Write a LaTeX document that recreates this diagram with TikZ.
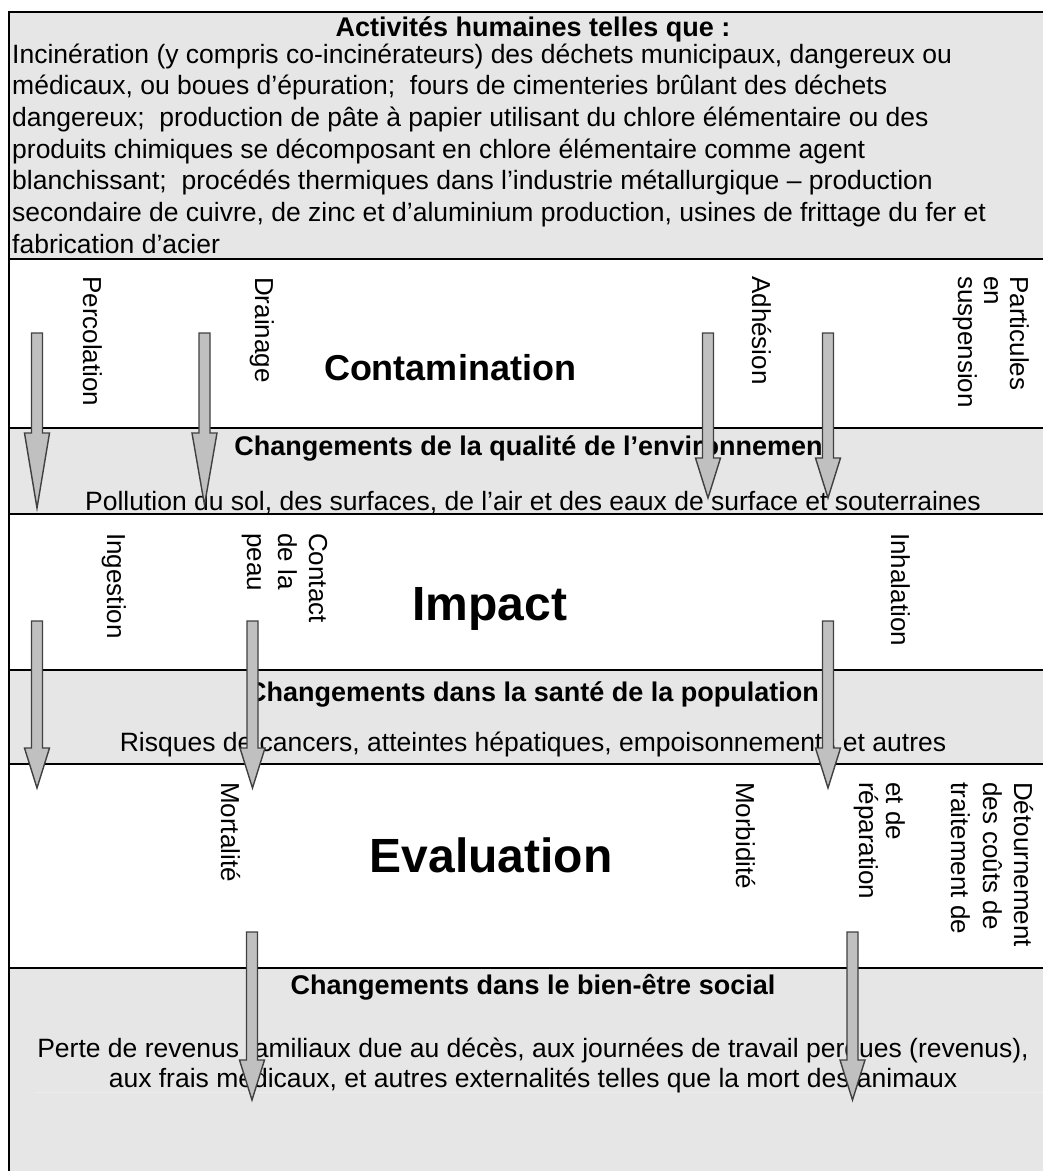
\documentclass[tikz,border=0pt]{standalone}
\usepackage{fontspec}
\setmainfont{Liberation Sans}
\definecolor{bandgrey}{HTML}{E6E6E6}
\definecolor{arrowfill}{HTML}{C0C0C0}
\definecolor{arrowedge}{HTML}{404040}
\begin{document}
\begin{tikzpicture}[x=1pt,y=-1pt,
  frame/.style={line width=2.6pt,black},
  body/.style={inner sep=0pt,font=\fontsize{26.5}{32}\selectfont},
  head/.style={inner sep=0pt,font=\fontsize{27}{32}\selectfont\bfseries},
  title/.style={inner sep=0pt,anchor=base,font=\fontsize{#1}{#1}\selectfont\bfseries},
  vlabel/.style={inner sep=0pt,rotate=-90,anchor=base west,font=\fontsize{26}{30}\selectfont},
  arrowbody/.style={fill=arrowfill,draw=arrowedge,line width=1.4pt,line join=miter},
  pics/blockarrow/.style n args={2}{code={
    % shaft 11 wide, head 25 wide; #1 = start of the head, #2 = tip
    \draw[arrowbody] (-5.5,0) -- (5.5,0) -- (5.5,#1) -- (12.5,#1) -- (0,#2)
      -- (-12.5,#1) -- (-5.5,#1) -- cycle;
  }}]
\useasboundingbox (0,0) rectangle (1043,1171);
\clip (0,0) rectangle (1043,1171);

% shaded bands
\fill[bandgrey] (9,12) rectangle (1060,259);
\fill[bandgrey] (9,428) rectangle (1060,514);
\fill[bandgrey] (9,670) rectangle (1060,764);
\fill[bandgrey] (9,968) rectangle (1060,1180);
\draw[white!93!black,line width=1pt] (35,1092) -- (1060,1092);

% frame and separators
\draw[frame] (1060,12) -- (9,12) -- (9,1180);
\foreach \yy in {259,428,514,670,764,968}
  \draw[frame] (9,\yy) -- (1060,\yy);

% human activities
\node[head,anchor=base] (hdr) at (533,36) {Activités humaines telles que :};
\node[body,anchor=base west] (l1) at (12,63) {Incinération (y compris co-incinérateurs) des déchets municipaux, dangereux ou};
\node[body,anchor=base west] (l2) at (12,94.7) {médicaux, ou boues d’épuration;~ fours de cimenteries brûlant des déchets};
\node[body,anchor=base west] (l3) at (12,126.3) {dangereux;~ production de pâte à papier utilisant du chlore élémentaire ou des};
\node[body,anchor=base west] (l4) at (12,158) {produits chimiques se décomposant en chlore élémentaire comme agent};
\node[body,anchor=base west] (l5) at (12,189.7) {blanchissant;~ procédés thermiques dans l’industrie métallurgique – production};
\node[body,anchor=base west] (l6) at (12,221.3) {secondaire de cuivre, de zinc et d’aluminium production, usines de frittage du fer et};
\node[body,anchor=base west] (l7) at (12,253) {fabrication d’acier};

% contamination
\node[title=36] (contam) at (450,380) {Contamination};
\node[vlabel] (perc) at (83,276) {Percolation};
\node[vlabel] (drain) at (255,277) {Drainage};
\node[vlabel] (adh) at (752,276) {Adhésion};
\node[vlabel] (part1) at (1010,276) {Particules};
\node[vlabel] (part2) at (984,276) {en};
\node[vlabel] (part3) at (958,276) {suspension};

\node[head,anchor=base] (qual) at (533,455) {Changements de la qualité de l’environnement};
\node[body,anchor=base] (poll) at (533,510) {Pollution du sol, des surfaces, de l’air et des eaux de surface et souterraines};

% impact
\node[title=48] (impact) at (490,620) {Impact};
\node[vlabel] (ingest) at (107,533) {Ingestion};
\node[vlabel] (cont1) at (309,533) {Contact};
\node[vlabel] (cont2) at (278,533) {de la};
\node[vlabel] (cont3) at (247,533) {peau};
\node[vlabel] (inhal) at (891,533) {Inhalation};

\node[head,anchor=base] (sante) at (533,701) {Changements dans la santé de la population};
\node[body,anchor=base] (risq) at (533,751) {Risques de cancers, atteintes hépatiques, empoisonnements et autres};

% evaluation
\node[title=48] (evalu) at (491,872) {Evaluation};
\node[vlabel] (mort) at (221,782) {Mortalité};
\node[vlabel] (morb) at (736,782) {Morbidité};
\node[vlabel] (det1) at (1014,782) {Détournement};
\node[vlabel] (det2) at (983,782) {des coûts de};
\node[vlabel] (det3) at (951,782) {traitement de};
\node[vlabel] (rep1) at (886,782) {et de};
\node[vlabel] (rep2) at (859,782) {réparation};

\node[head,anchor=base] (bien) at (533,994) {Changements dans le bien-être social};
\node[body,anchor=base] (perte1) at (533,1057) {Perte de revenus familiaux due au décès, aux journées de travail perdues (revenus),};
\node[body,anchor=base] (perte2) at (533,1087) {aux frais médicaux, et autres externalités telles que la mort des animaux};

% block arrows, drawn last so they lie over the bands and texts
\pic (a1) at (37,333) {blockarrow={100}{175}};
\pic (a2) at (204.5,333) {blockarrow={100}{172}};
\pic (a3) at (708,333) {blockarrow={125}{165}};
\pic (a4) at (828,333) {blockarrow={125}{165}};
\pic (b1) at (37,621) {blockarrow={127}{167}};
\pic (b2) at (252.5,621) {blockarrow={127}{167}};
\pic (b3) at (828,621) {blockarrow={127}{167}};
\pic (c1) at (252,932) {blockarrow={128}{168}};
\pic (c2) at (852.5,932) {blockarrow={128}{168}};
\end{tikzpicture}
\end{document}
